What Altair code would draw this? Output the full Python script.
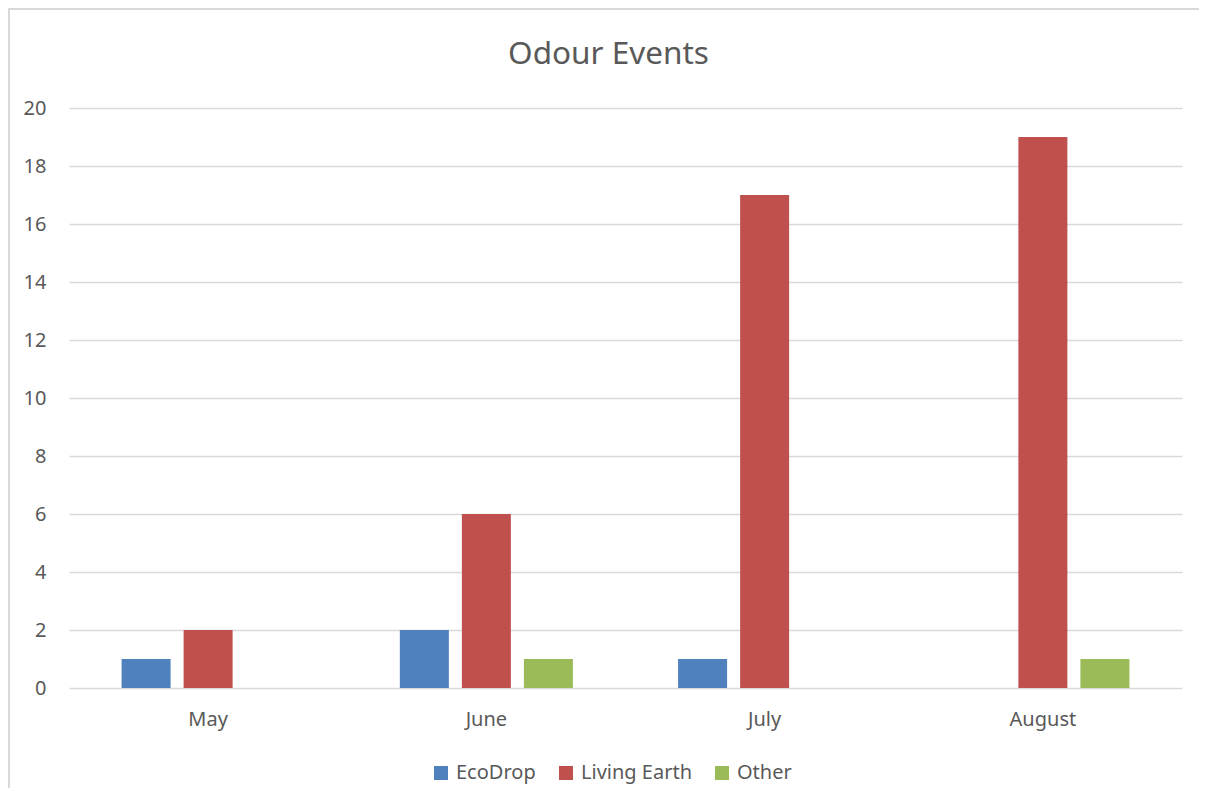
import altair as alt
import pandas as pd

months = ["May", "June", "July", "August"]
series = ["EcoDrop", "Living Earth", "Other"]
ecodrop = [1, 2, 1, 0]
living_earth = [2, 6, 17, 19]
other = [0, 1, 0, 1]
colors = ["#4F81BD", "#C0504D", "#9BBB59"]
y_ticks = list(range(0, 21, 2))

rows = []
for s, vals in zip(series, [ecodrop, living_earth, other]):
    for m, v in zip(months, vals):
        rows.append({"Month": m, "Series": s, "Value": v})
df = pd.DataFrame(rows)

FONT = "Noto Sans"
TXT = "#595959"

bars = alt.Chart(df).mark_bar().encode(
    x=alt.X(
        "Month:N",
        sort=months,
        scale=alt.Scale(paddingInner=0.378, paddingOuter=0.189),
        axis=alt.Axis(
            title=None, labelAngle=0, ticks=False, tickSize=0, domain=False, grid=False,
            labelFontSize=20, labelColor=TXT, labelFont=FONT, labelPadding=21,
        ),
    ),
    xOffset=alt.XOffset(
        "Series:N", sort=series, scale=alt.Scale(paddingInner=0.21, paddingOuter=0)
    ),
    y=alt.Y(
        "Value:Q",
        scale=alt.Scale(domain=[0, 20], nice=False),
        axis=alt.Axis(
            values=y_ticks, title=None, domain=False, ticks=False, tickSize=0, grid=True,
            gridColor="#D9D9D9", gridWidth=1.5,
            labelFontSize=20, labelColor=TXT, labelFont=FONT, labelPadding=23,
        ),
    ),
    color=alt.Color(
        "Series:N",
        sort=series,
        scale=alt.Scale(domain=series, range=colors),
        legend=alt.Legend(
            title=None, orient="none", direction="horizontal",
            legendX=362, legendY=655,
            symbolType="square", symbolSize=196, symbolStrokeWidth=0,
            labelFontSize=20, labelColor=TXT, labelFont=FONT,
            columnPadding=20, labelOffset=5,
        ),
    ),
)

frame = alt.Chart(pd.DataFrame({"a": [0]})).mark_rect(
    filled=False, stroke="#D9D9D9", strokeWidth=2
).encode(
    x=alt.value(-60), x2=alt.value(1300), y=alt.value(-99), y2=alt.value(900)
)

chart = alt.layer(frame, bars).properties(
    width=1113,
    height=580,
    padding={"left": 61, "top": 100, "right": 17, "bottom": 100},
    autosize=alt.AutoSizeParams(type="none"),
    background="white",
    title=alt.Title(
        "Odour Events", fontSize=31.5, font=FONT, color=TXT, fontWeight="normal",
        anchor="middle", frame="group", baseline="alphabetic", offset=-87, dx=-17,
    ),
).configure_view(stroke=None)

chart.save("out.html", embed_options={"renderer": "svg", "actions": False})
